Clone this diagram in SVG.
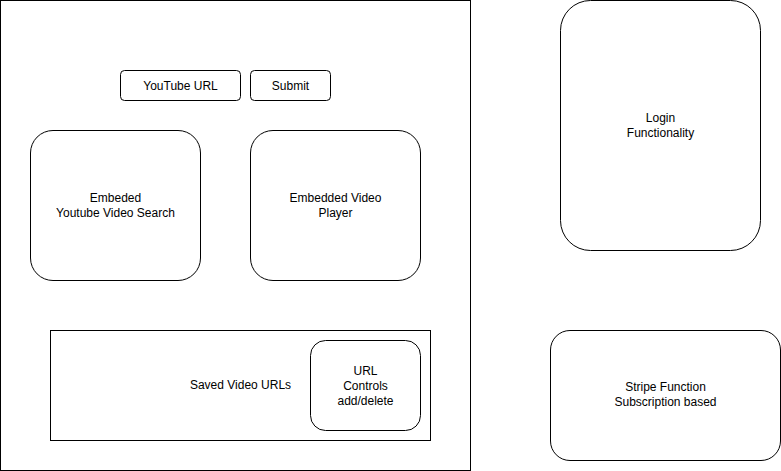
<svg xmlns="http://www.w3.org/2000/svg" width="781" height="471" viewBox="0 0 781 471">
<style>
.s{fill:#fff;stroke:#000;stroke-width:1}
.t{font-family:"Liberation Sans",Arial,sans-serif;font-size:12px;fill:#000;text-anchor:middle}
</style>
<rect width="781" height="471" fill="#fff"/>
<g id="container"><rect class="s" x="0.5" y="0.5" width="470" height="470"/></g>
<g id="youtube-url"><rect class="s" x="120.5" y="70.5" width="120" height="30" rx="4"/><text class="t" x="180.5" y="89.5">YouTube URL</text></g>
<g id="submit"><rect class="s" x="250.5" y="70.5" width="80" height="30" rx="4"/><text class="t" x="290.5" y="89.5">Submit</text></g>
<g id="search"><rect class="s" x="30.5" y="130.5" width="170" height="150" rx="22.5"/><text class="t" x="115.5" y="202"><tspan x="115.5">Embeded</tspan><tspan x="115.5" dy="15">Youtube Video Search</tspan></text></g>
<g id="player"><rect class="s" x="250.5" y="130.5" width="170" height="150" rx="22.5"/><text class="t" x="335.5" y="202"><tspan x="335.5">Embedded Video</tspan><tspan x="335.5" dy="15">Player</tspan></text></g>
<g id="saved"><rect class="s" x="50.5" y="330.5" width="380" height="110"/><text class="t" x="240.5" y="389">Saved Video URLs</text></g>
<g id="controls"><rect class="s" x="310.5" y="340.5" width="110" height="90" rx="15"/><text class="t" x="365.5" y="375"><tspan x="365.5">URL</tspan><tspan x="365.5" dy="15">Controls</tspan><tspan x="365.5" dy="15">add/delete</tspan></text></g>
<g id="login"><rect class="s" x="560.5" y="0.5" width="200" height="250" rx="30"/><text class="t" x="660.5" y="122"><tspan x="660.5">Login</tspan><tspan x="660.5" dy="15">Functionality</tspan></text></g>
<g id="stripe"><rect class="s" x="550.5" y="330.5" width="230" height="130" rx="19.5"/><text class="t" x="665.5" y="391"><tspan x="665.5">Stripe Function</tspan><tspan x="665.5" dy="15">Subscription based</tspan></text></g>
<g id="connectors"></g>
</svg>
